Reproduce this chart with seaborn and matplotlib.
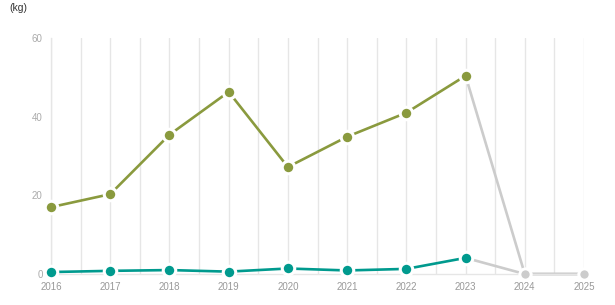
import matplotlib
matplotlib.use("Agg")
import matplotlib.pyplot as plt
import seaborn as sns
import pandas as pd

years = [2016, 2017, 2018, 2019, 2020, 2021, 2022, 2023, 2024, 2025]
series_a = [17.0, 20.3, 35.4, 46.3, 27.2, 34.9, 41.0, 50.4, 0.0, 0.0]
series_b = [0.5, 0.8, 1.0, 0.6, 1.4, 0.9, 1.3, 4.1, 0.0, 0.0]
y_ticks = [0, 20, 40, 60]
unit_label = "(kg)"
n_actual = 8  # first 8 years are actual values; later years are shown grey

sns.set_theme(style="white")
plt.rcParams['font.family'] = ['Liberation Sans', 'DejaVu Sans']

fig = plt.figure(figsize=(6.15, 3.05), dpi=100)
ax = fig.add_axes([51/615, 1-274/305, (584-51)/615, (274-38)/305])

green = "#8a9a3e"
teal = "#009a8e"
grey = "#cccccc"

df_a = pd.DataFrame({"year": years, "v": series_a})
df_b = pd.DataFrame({"year": years, "v": series_b})

mk = dict(marker="o", markersize=9, markeredgecolor="white", markeredgewidth=2.2,
          clip_on=False, zorder=3)
mk_grey = dict(marker="o", markersize=8, markeredgecolor="white", markeredgewidth=2.0,
               clip_on=False, zorder=3)

# grey tail segments (last actual -> future)
for df in (df_a, df_b):
    tail = df.iloc[n_actual-1:]
    sns.lineplot(data=tail, x="year", y="v", ax=ax, color=grey, linewidth=1.9,
                 clip_on=False, zorder=2)
    fut = df.iloc[n_actual:]
    sns.lineplot(data=fut, x="year", y="v", ax=ax, color=grey, linewidth=0,
                 **mk_grey)

for df, c in ((df_a, green), (df_b, teal)):
    act = df.iloc[:n_actual]
    sns.lineplot(data=act, x="year", y="v", ax=ax, color=c, linewidth=1.9, **mk)

ax.set_xlim(years[0], years[-1])
ax.set_ylim(0, 60)
ax.set_xticks(years)
ax.set_xticklabels([str(y) for y in years])
ax.set_xticks([y + 0.5 for y in years[:-1]], minor=True)
ax.set_yticks(y_ticks)
ax.set_yticklabels([str(t) for t in y_ticks])

ax.grid(False)
ax.grid(True, axis="x", which="both", color="#e6e6e6", linewidth=1)
ax.set_axisbelow(True)
for s in ("top", "right"):
    ax.spines[s].set_visible(False)
ax.spines["left"].set_color("#e6e6e6")
ax.spines["bottom"].set_color("#e6e6e6")
ax.spines["left"].set_linewidth(1)
ax.spines["bottom"].set_linewidth(1)

ax.tick_params(axis="y", which="major", length=5, width=1, color="#e6e6e6",
               labelsize=7, labelcolor="#aaaaaa", pad=1)
ax.tick_params(axis="x", which="both", length=0, labelsize=7,
               labelcolor="#999999", pad=6)
ax.set_xlabel("")
ax.set_ylabel("")
if ax.get_legend():
    ax.get_legend().remove()

fig.text(9/615, 1-8/305, unit_label, fontsize=7.5, color="#333333",
         ha="left", va="center")

fig.savefig("out.png", dpi=100)
